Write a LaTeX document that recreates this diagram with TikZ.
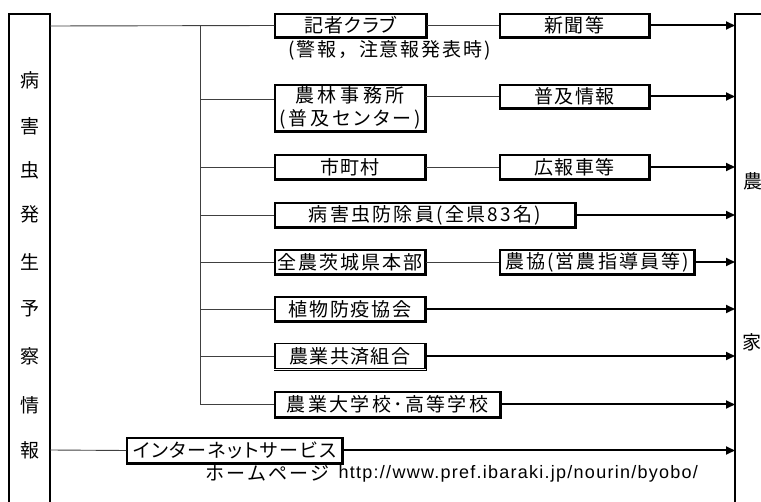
\documentclass[tikz,border=0pt]{standalone}
\usepackage{fontspec}
\setmainfont{Noto Sans CJK JP}
\newfontfamily\urlfont{Liberation Sans}
\usetikzlibrary{arrows.meta}
\newcommand\sq[2]{{\addfontfeature{LetterSpace=#1}#2}}
\newcommand\sqp[2]{{\addfontfeature{LetterSpace=#1,RawFeature=+palt}#2}}
\begin{document}
\begin{tikzpicture}[x=1pt,y=-1pt,
  every node/.style={font=\fontsize{19}{23}\selectfont, inner sep=0pt},
  bx/.style={draw, line width=1.5pt, fill=white, align=center},
  conn/.style={line width=0.9pt, black!75},
  arr/.style={line width=2pt, -{Triangle[length=9pt,width=8pt]}},
  frame/.style={line width=1.6pt},
  shd/.style={line width=1.2pt}]
\useasboundingbox (0,0) rectangle (761,502);

% side frames
\draw[frame] (9,502) -- (9,14) -- (50,14) -- (50,502);
\draw[frame] (735,502) -- (735,14) -- (761,14);
\coordinate (R) at (735,14);
\coordinate (Lb1) at (50,26);
\coordinate (Lb2) at (50,450);
\coordinate (T1) at (200,26);
\coordinate (T2) at (200,404);

\foreach \c/\y [count=\i] in {病/80,害/126,虫/170,発/214,生/262,予/309,察/356,情/405,報/450}
  \node (v\i) at (30,\y) {\c};
\node (n1) at (753,181) {農};
\node (n2) at (752,342) {家};

% boxes
\node[bx, minimum width=151pt, minimum height=23pt] (A) at (350.5,25.5) {\sqp{5}{記者クラブ}};
\node[bx, minimum width=149pt, minimum height=23pt] (B) at (574.5,25.5) {\sq{10}{新聞等}};
\node (An) at (389.5,50) {\sq{10}{(警報，注意報発表時)}};
\node[bx, minimum width=150pt, minimum height=46pt] (C) at (350,108) {\sq{19}{農林事務所}\\\sqp{15}{(普及センター)}};
\node[bx, minimum width=149pt, minimum height=23pt] (D) at (574.5,96.5) {\sq{8}{普及情報}};
\node[bx, minimum width=150pt, minimum height=24pt] (E) at (350,167) {\sq{5}{市町村}};
\node[bx, minimum width=149pt, minimum height=24pt] (E2) at (574.5,167) {\sq{8}{広報車等}};
\node[bx, minimum width=300pt, minimum height=24pt] (F) at (425,215) {\sq{12}{病害虫防除員(全県83名)}};
\node[bx, minimum width=150pt, minimum height=24pt] (G) at (350,262) {\sq{10}{全農茨城県本部}};
\node[bx, minimum width=194pt, minimum height=24pt] (H) at (597,262) {\sq{11}{農協(営農指導員等)}};
\node[bx, minimum width=150pt, minimum height=24pt] (I) at (350,309) {\sq{9}{植物防疫協会}};
\node[bx, minimum width=150pt, minimum height=25pt] (J) at (350,356) {\sq{7}{農業共済組合}};
\node[bx, minimum width=225pt, minimum height=25pt] (K) at (387.5,404.5) {\sq{12}{農業大学校･高等学校}};
\node[bx, minimum width=215pt, minimum height=25pt] (L) at (234.5,450.5) {\sqp{8}{インターネットサービス}};
\node[anchor=base west] (url) at (205,480.5) {\sq{12}{ホームページ}\hspace{9pt}\raisebox{2pt}{\urlfont\fontsize{18}{20}\selectfont\addfontfeature{LetterSpace=7}http://www.pref.ibaraki.jp/nourin/byobo/}};

% box shadows (thicker bottom and right edges)
\foreach \n in {A,B,C,D,E,E2,F,G,H,I,J,K,L}
  \draw[shd] ([yshift=-0.9pt]\n.south west) -- ([xshift=0.9pt,yshift=-0.9pt]\n.south east) -- ([xshift=0.9pt]\n.north east);

% thin connectors
\draw[conn] (Lb1) -- (A.west);
\draw[conn] (T1) -- (T2);
\draw[conn] (T1 |- C.west) ++(0,-9) coordinate (tc) -- (tc -| C.west);
\draw[conn] (T1 |- E.west) -- (E.west);
\draw[conn] (T1 |- F.west) -- (F.west);
\draw[conn] (T1 |- G.west) -- (G.west);
\draw[conn] (T1 |- I.west) -- (I.west);
\draw[conn] (T1 |- J.west) -- (J.west);
\draw[conn] (T1 |- K.west) -- (K.west);
\draw[conn] (A.east) -- (B.west);
\draw[conn] (C.east |- D.west) -- (D.west);
\draw[conn] (E.east) -- (E2.west);
\draw[conn] (G.east) -- (H.west);
\draw[conn] (Lb2) -- (L.west);

% arrows to farmers
\draw[arr] (B.east) -- (B.east -| R);
\draw[arr] (D.east) -- (D.east -| R);
\draw[arr] (E2.east) -- (E2.east -| R);
\draw[arr] (F.east) -- (F.east -| R);
\draw[arr] (H.east) -- (H.east -| R);
\draw[arr] (I.east) -- (I.east -| R);
\draw[arr] (J.east) -- (J.east -| R);
\draw[arr] (K.east) -- (K.east -| R);
\draw[arr] (L.east) -- (L.east -| R);
\end{tikzpicture}
\end{document}
